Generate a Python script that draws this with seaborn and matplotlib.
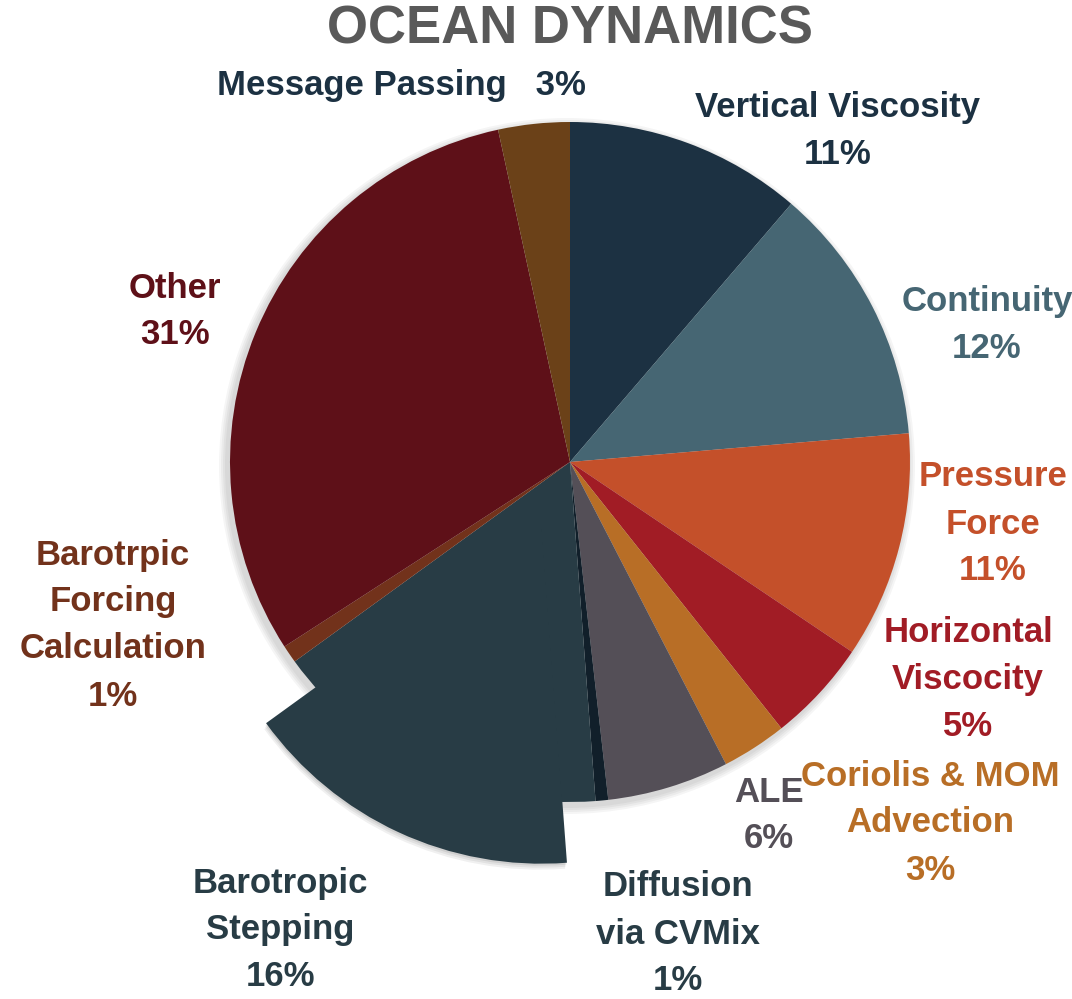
import matplotlib
matplotlib.use("Agg")
import matplotlib.pyplot as plt
import seaborn as sns
import numpy as np

# ---- data ----
categories = ["Vertical Viscosity", "Continuity", "Pressure Force", "Horizontal Viscocity",
              "Coriolis & MOM Advection", "ALE", "Diffusion via CVMix", "Barotropic Stepping",
              "Barotrpic Forcing Calculation", "Other", "Message Passing"]
values = [11.3, 12.4, 10.8, 4.9, 3.1, 5.8, 0.6, 16.25, 0.85, 30.8, 3.4]
label_lines = ["Vertical Viscosity", "Continuity", "Pressure\nForce", "Horizontal\nViscocity",
               "Coriolis & MOM\nAdvection", "ALE", "Diffusion\nvia CVMix", "Barotropic\nStepping",
               "Barotrpic\nForcing\nCalculation", "Other", "Message Passing"]
colors = ["#1C3142", "#466673", "#C4502A", "#A11C25", "#B86E26", "#544F57",
          "#111F2A", "#283C45", "#72321B", "#5E1018", "#6B4118"]
text_colors = ["#1C3142", "#466673", "#C4502A", "#A11C25", "#B86E26", "#544F57",
               "#283C45", "#283C45", "#72321B", "#5E1018", "#1C3142"]
exploded = "Barotropic Stepping"
title = "OCEAN DYNAMICS"

sns.set_theme(style="white")
plt.rcParams["font.family"] = ["Liberation Sans", "DejaVu Sans"]
palette = sns.color_palette(colors)

W, H = 1072, 999
fig = plt.figure(figsize=(W / 100, H / 100), dpi=100)
ax = fig.add_axes([0, 0, 1, 1])
ax.set_xlim(0, W)
ax.set_ylim(0, H)
ax.axis("off")

cx, cy, R = 570, H - 462, 340

# soft shadow behind the pie
for i, a in enumerate([0.04, 0.04, 0.04, 0.04]):
    ax.pie([1], radius=R + 2 + 2 * i, center=(cx - 3, cy - 4), colors=["#000000"],
           wedgeprops=dict(alpha=a, linewidth=0))

# base pie (all slices in place)
ax.pie(values, radius=R, center=(cx, cy), startangle=90, counterclock=False,
       colors=palette, wedgeprops=dict(linewidth=0))

# exploded copy of one slice on top
idx = categories.index(exploded)
expl = [68 if c == exploded else 0 for c in categories]
for k, (off, a) in enumerate([(6, 0.06), (4, 0.06), (2, 0.08)]):
    wed, _ = ax.pie(values, radius=R, center=(cx - off * 0.3, cy - off), startangle=90,
                    counterclock=False, explode=expl, colors=["#000000"] * len(values),
                    wedgeprops=dict(linewidth=0, alpha=a))
    for j, w in enumerate(wed):
        if j != idx:
            w.set_visible(False)
wed, _ = ax.pie(values, radius=R, center=(cx, cy), startangle=90, counterclock=False,
                explode=expl, colors=palette, wedgeprops=dict(linewidth=0))
for j, w in enumerate(wed):
    if j != idx:
        w.set_visible(False)
ax.set_xlim(0, W)
ax.set_ylim(0, H)
ax.set_aspect("equal")

total = sum(values)
pcts = [f"{round(v / total * 100):d}%" for v in values]

# label positions (pixel coords: center x, top line y)
pos = {
    "Vertical Viscosity": (838, 108),
    "Continuity": (987, 302),
    "Pressure Force": (993, 477),
    "Horizontal Viscocity": (968, 632),
    "Coriolis & MOM Advection": (930, 776),
    "ALE": (769, 792),
    "Diffusion via CVMix": (678, 887),
    "Barotropic Stepping": (280, 883),
    "Barotrpic Forcing Calculation": (113, 555),
    "Other": (175, 288),
}
fs = 25
lh = 47
for i, c in enumerate(categories):
    if c == "Message Passing":
        ax.text(401, H - 85, f"{label_lines[i]}   {pcts[i]}", ha="center", va="center",
                fontsize=fs, fontweight="bold", color=text_colors[i])
        continue
    x, y0 = pos[c]
    lines = label_lines[i].split("\n") + [pcts[i]]
    for k, ln in enumerate(lines):
        ax.text(x, H - (y0 + k * lh), ln, ha="center", va="center",
                fontsize=fs, fontweight="bold", color=text_colors[i])

ax.text(570, H - 30, title, ha="center", va="center", fontsize=38,
        fontweight="bold", color="#595959")

fig.savefig("out.png", dpi=100)
